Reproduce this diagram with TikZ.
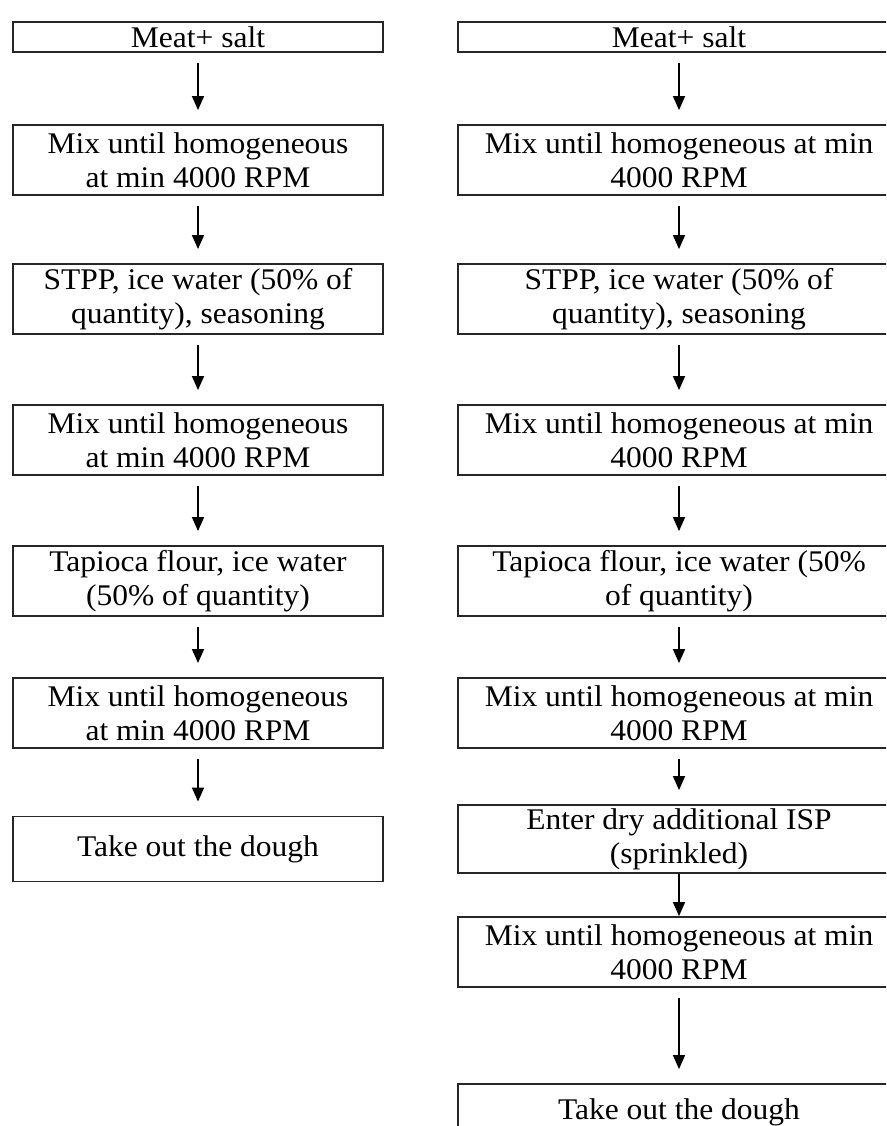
\documentclass[tikz,border=0pt]{standalone}
\usepackage{fontspec}
\setmainfont{Liberation Serif}[FakeStretch=1.05]
\usetikzlibrary{arrows.meta}
\tikzset{
  every picture/.style={line width=1.5pt},
  stepbox/.style={draw=black!85, line width=1.8pt, align=center, inner sep=0pt,
    minimum height=#1, font=\fontsize{30}{34}\selectfont},
  stepbox/.default=70pt,
  leftbox/.style={stepbox=#1, minimum width=370pt},
  leftbox/.default=70pt,
  rightbox/.style={stepbox=#1, minimum width=442pt},
  rightbox/.default=70pt,
  flow/.style={-{Triangle[length=14pt, width=12pt]}, line width=1.5pt,
    shorten <=10pt, shorten >=14pt},
  flowtight/.style={flow, shorten <=0pt, shorten >=0pt},
}

\begin{document}
\begin{tikzpicture}[x=1pt, y=-1pt]
  \useasboundingbox (0,0) rectangle (886,1126);
  \clip (0,0) rectangle (886,1126);
  % left process
  \node[leftbox=30pt] (l1) at (198,37) {Meat+ salt};
  \node[leftbox] (l2) at (198,160) {Mix until homogeneous\\at min 4000 RPM};
  \node[leftbox] (l3) at (198,299) {STPP, ice water (50\% of\\quantity), seasoning};
  \node[leftbox] (l4) at (198,440) {Mix until homogeneous\\at min 4000 RPM};
  \node[leftbox] (l5) at (198,581) {Tapioca flour, ice water\\(50\% of quantity)};
  \node[leftbox] (l6) at (198,713) {Mix until homogeneous\\at min 4000 RPM};
  \node[leftbox=65pt] (l7) at (198,849) {Take out the dough};
  % right process
  \node[rightbox=30pt] (r1) at (679,37) {Meat+ salt};
  \node[rightbox] (r2) at (679,160) {Mix until homogeneous at min\\4000 RPM};
  \node[rightbox] (r3) at (679,299) {STPP, ice water (50\% of\\quantity), seasoning};
  \node[rightbox] (r4) at (679,440) {Mix until homogeneous at min\\4000 RPM};
  \node[rightbox] (r5) at (679,581) {Tapioca flour, ice water (50\%\\of quantity)};
  \node[rightbox] (r6) at (679,713) {Mix until homogeneous at min\\4000 RPM};
  \node[rightbox=68pt] (r7) at (679,839) {Enter dry additional ISP\\(sprinkled)};
  \node[rightbox] (r8) at (679,952) {Mix until homogeneous at min\\4000 RPM};
  \node[rightbox=56pt] (r9) at (679,1112) {Take out the dough};
  % arrows
  \foreach \a/\b in {l1/l2, l2/l3, l3/l4, l4/l5, l5/l6, l6/l7,
                     r1/r2, r2/r3, r3/r4, r4/r5, r5/r6, r6/r7, r8/r9}
    \draw[flow] (\a) -- (\b);
  \draw[flowtight] (r7) -- (r8);
\end{tikzpicture}
\end{document}
